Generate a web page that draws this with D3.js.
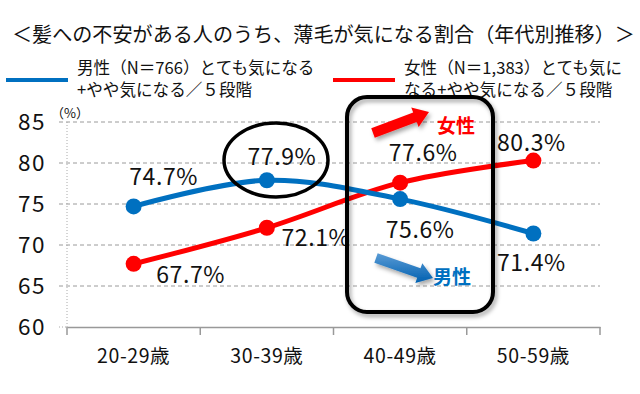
<!DOCTYPE html>
<html>
<head>
<meta charset="utf-8">
<script src="https://cdn.jsdelivr.net/npm/d3@7"></script>
<style>
body { margin:0; background:#fff; }
text { font-family: "Noto Sans CJK JP", "Noto Sans", sans-serif; }
</style>
</head>
<body>
<div id="chart"></div>
<script>
// data
var ageGroups = ["20-29歳", "30-39歳", "40-49歳", "50-59歳"];
var maleValues = [74.7, 77.9, 75.6, 71.4];
var femaleValues = [67.7, 72.1, 77.6, 80.3];
var yTicks = [60, 65, 70, 75, 80, 85];
var titleText = "＜髪への不安がある人のうち、薄毛が気になる割合（年代別推移）＞";
var maleLegend = ["男性（N＝766）とても気になる", "+やや気になる／５段階"];
var femaleLegend = ["女性（N＝1,383）とても気に", "なる+やや気になる／５段階"];

// label placement (offset from point)
var maleOffsets = [[30, -21], [15, -15], [20, 39], [-2, 37]];
var femaleOffsets = [[57, 19], [49, 18], [23, -22], [-2, -10]];

var width = 640, height = 394;
var blue = "#0070C0", red = "#FF0000";

var svg = d3.select("#chart").append("svg")
    .attr("width", width)
    .attr("height", height);

var defs = svg.append("defs");
var f = defs.append("filter").attr("id", "shadow")
    .attr("x", "-20%").attr("y", "-20%").attr("width", "150%").attr("height", "150%");
f.append("feDropShadow").attr("dx", 2).attr("dy", 3).attr("stdDeviation", 2)
    .attr("flood-color", "#000").attr("flood-opacity", 0.35);
var g1 = defs.append("linearGradient").attr("id", "blueGrad")
    .attr("x1", 0).attr("y1", 0).attr("x2", 0).attr("y2", 1);
g1.append("stop").attr("offset", "0%").attr("stop-color", "#5a9bd5");
g1.append("stop").attr("offset", "100%").attr("stop-color", "#0060b0");

var x = d3.scaleBand().domain(ageGroups).range([67, 600]);
var y = d3.scaleLinear().domain([60, 85]).range([327, 122]);
var cx = function (d) { return x(d) + x.bandwidth() / 2; };

// title
svg.append("text")
    .attr("x", 12).attr("y", 42)
    .attr("font-size", 20.1)
    .attr("fill", "#111")
    .text(titleText);

// legend
var legends = [
    { color: blue, x: 6, lines: maleLegend },
    { color: red, x: 333, lines: femaleLegend }
];
legends.forEach(function (l) {
    svg.append("line")
        .attr("x1", l.x).attr("x2", l.x + 62)
        .attr("y1", 80).attr("y2", 80)
        .attr("stroke", l.color).attr("stroke-width", 4);
    svg.append("text")
        .attr("font-size", 16.6).attr("fill", "#111")
        .selectAll("tspan").data(l.lines).enter().append("tspan")
        .attr("x", l.x + 71)
        .attr("y", function (d, i) { return 74 + i * 22; })
        .text(function (d) { return d; });
});

// grid
svg.append("g").selectAll("line")
    .data(yTicks.filter(function (d) { return d > 60; }))
    .enter().append("line")
    .attr("x1", 59).attr("x2", 600)
    .attr("y1", function (d) { return y(d); })
    .attr("y2", function (d) { return y(d); })
    .attr("stroke", "#9a9a9a").attr("stroke-width", 1)
    .attr("stroke-dasharray", "4,3");

svg.append("line")
    .attr("x1", 67).attr("x2", 67)
    .attr("y1", y(85)).attr("y2", y(60))
    .attr("stroke", "#aaa").attr("stroke-dasharray", "1,2");
svg.append("line")
    .attr("x1", 59).attr("x2", 67)
    .attr("y1", y(60)).attr("y2", y(60))
    .attr("stroke", "#aaa").attr("stroke-dasharray", "1,2");

// y labels
svg.append("g").selectAll("text")
    .data(yTicks).enter().append("text")
    .attr("x", 46)
    .attr("y", function (d) { return y(d) + 8; })
    .attr("text-anchor", "end")
    .attr("font-size", 22.5)
    .attr("letter-spacing", 1.5)
    .attr("fill", "#111")
    .text(function (d) { return d; });

svg.append("text")
    .attr("x", 51).attr("y", 118)
    .attr("font-size", 13).attr("fill", "#111")
    .text("（%）");

// x axis
var xAxis = d3.axisBottom(x).tickSize(0).tickPadding(22);
var ax = svg.append("g")
    .attr("transform", "translate(0," + y(60) + ")")
    .call(xAxis);
ax.select(".domain").attr("stroke", "#999").attr("stroke-width", 1.5);
ax.selectAll(".tick text")
    .attr("font-size", 19.5).attr("letter-spacing", 0.6)
    .attr("fill", "#111")
    .attr("font-family", "\"Noto Sans CJK JP\", sans-serif");
svg.append("g").selectAll("line")
    .data(d3.range(ageGroups.length + 1)).enter().append("line")
    .attr("x1", function (i) { return 67 + i * x.step(); })
    .attr("x2", function (i) { return 67 + i * x.step(); })
    .attr("y1", y(60)).attr("y2", y(60) + 8)
    .attr("stroke", "#999").attr("stroke-width", 1.5);

// lines
var line = d3.line()
    .x(function (d) { return cx(d.g); })
    .y(function (d) { return y(d.v); })
    .curve(d3.curveCatmullRom.alpha(0.5));

var series = [
    { color: red, values: femaleValues, offsets: femaleOffsets },
    { color: blue, values: maleValues, offsets: maleOffsets }
];
series.forEach(function (s) {
    var pts = ageGroups.map(function (g, i) { return { g: g, v: s.values[i], o: s.offsets[i] }; });
    svg.append("path").datum(pts)
        .attr("d", line)
        .attr("fill", "none")
        .attr("stroke", s.color)
        .attr("stroke-width", 5);
    svg.append("g").selectAll("circle").data(pts).enter().append("circle")
        .attr("cx", function (d) { return cx(d.g); })
        .attr("cy", function (d) { return y(d.v); })
        .attr("r", 8)
        .attr("fill", s.color);
    svg.append("g").selectAll("text").data(pts).enter().append("text")
        .attr("x", function (d) { return cx(d.g) + d.o[0]; })
        .attr("y", function (d) { return y(d.v) + d.o[1]; })
        .attr("text-anchor", "middle")
        .attr("font-size", 23)
        .attr("letter-spacing", 0.6)
        .attr("fill", "#111")
        .text(function (d) { return d.v.toFixed(1) + "%"; });
});

// annotations
svg.append("ellipse")
    .attr("cx", 276).attr("cy", 160)
    .attr("rx", 52).attr("ry", 37)
    .attr("fill", "none").attr("stroke", "#000").attr("stroke-width", 3.5);

svg.append("rect")
    .attr("x", 347).attr("y", 97)
    .attr("width", 146).attr("height", 215)
    .attr("rx", 20).attr("ry", 20)
    .attr("fill", "none").attr("stroke", "#000").attr("stroke-width", 4)
    .attr("filter", "url(#shadow)");

function arrow(x1, y1, x2, y2, w, hw, hl) {
    var a = Math.atan2(y2 - y1, x2 - x1);
    var len = Math.hypot(x2 - x1, y2 - y1);
    var p = [[0, -w / 2], [len - hl, -w / 2], [len - hl, -hw / 2], [len, 0],
             [len - hl, hw / 2], [len - hl, w / 2], [0, w / 2]];
    return p.map(function (q) {
        return [x1 + q[0] * Math.cos(a) - q[1] * Math.sin(a),
                y1 + q[0] * Math.sin(a) + q[1] * Math.cos(a)];
    });
}
var polyLine = d3.line();
svg.append("path")
    .attr("d", polyLine(arrow(373, 133, 429, 112, 10, 21, 15)) + "Z")
    .attr("fill", red).attr("filter", "url(#shadow)");
svg.append("path")
    .attr("d", polyLine(arrow(376, 258, 433, 278, 10, 21, 15)) + "Z")
    .attr("fill", "url(#blueGrad)").attr("filter", "url(#shadow)");

svg.append("text")
    .attr("x", 437).attr("y", 133)
    .attr("font-size", 19).attr("font-weight", "bold")
    .attr("fill", red).text("女性");
svg.append("text")
    .attr("x", 433).attr("y", 284)
    .attr("font-size", 19).attr("font-weight", "bold")
    .attr("fill", blue).text("男性");
</script>
</body>
</html>
